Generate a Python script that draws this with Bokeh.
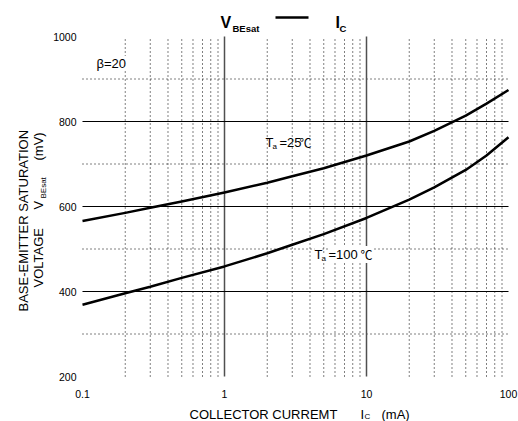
import math
from bokeh.plotting import figure
from bokeh.models import Label, Range1d
from bokeh.embed import file_html
from bokeh.resources import INLINE

# ---- data ----
ic = [0.1, 0.2, 0.3, 0.5, 1, 2, 3, 5, 10, 20, 30, 50, 70, 100]
v_25 = [566, 585, 597, 612, 633, 656, 671, 690, 720, 753, 778, 814, 842, 874]
v_100 = [369, 396, 411, 432, 459, 490, 510, 535, 573, 616, 645, 686, 720, 763]
x_ticks = [0.1, 1, 10, 100]
x_tick_labels = ["0.1", "1", "10", "100"]
y_ticks = [200, 400, 600, 800, 1000]
y_tick_labels = ["200", "400", "600", "800", "1000"]
x_major_grid = [1, 10]
x_minor_grid = [0.2, 0.3, 0.4, 0.5, 0.6, 0.7, 0.8, 0.9,
                2, 3, 4, 5, 6, 7, 8, 9,
                20, 30, 40, 50, 60, 70, 80, 90]
y_major_grid = [400, 600, 800]
y_minor_grid = [300, 500, 700, 900]
x_lim = [0.1, 100]
y_lim = [200, 1000]

FONT = "Liberation Sans"
W, H = 518, 421

# plot-area placement (pixels)
LEFT, RIGHT, TOP, BOTTOM = 82, 508, 36, 376
DEC = (RIGHT - LEFT) / 3.0


def xd(px):
    return 10 ** ((px - LEFT) / DEC - 1)


def yd(py):
    return 200 + (BOTTOM - py) * 800.0 / (BOTTOM - TOP)


p = figure(width=W, height=H, x_axis_type="log",
           x_range=Range1d(xd(0), xd(W)), y_range=Range1d(yd(H), yd(0)),
           x_axis_location=None, y_axis_location=None,
           output_backend="svg", toolbar_location=None, min_border=0)
p.outline_line_color = None
p.grid.visible = False
p.background_fill_color = "white"
p.border_fill_color = "white"

# grid lines
p.segment(x0=x_minor_grid, x1=x_minor_grid,
          y0=[y_lim[0]] * len(x_minor_grid), y1=[y_lim[1]] * len(x_minor_grid),
          line_color="black", line_width=1, line_dash="1 3")
p.segment(x0=[x_lim[0]] * len(y_minor_grid), x1=[x_lim[1]] * len(y_minor_grid),
          y0=y_minor_grid, y1=y_minor_grid,
          line_color="black", line_width=1, line_dash="1 3")
p.segment(x0=x_major_grid, x1=x_major_grid,
          y0=[y_lim[0]] * len(x_major_grid), y1=[y_lim[1]] * len(x_major_grid),
          line_color="#505050", line_width=1.5)
p.segment(x0=[x_lim[0]] * len(y_major_grid), x1=[x_lim[1]] * len(y_major_grid),
          y0=y_major_grid, y1=y_major_grid,
          line_color="black", line_width=1.2)

# curves
p.line(ic, v_25, line_color="black", line_width=2.5, line_join="round")
p.line(ic, v_100, line_color="black", line_width=2.5, line_join="round")

# tick labels
p.text(x=x_ticks, y=[yd(393)] * len(x_ticks), text=x_tick_labels,
       text_font={"value": FONT}, text_font_size="10.5px",
       text_align="center", text_baseline="middle", text_color="black")
p.text(x=[xd(76)] * len(y_ticks), y=y_ticks, text=y_tick_labels,
       text_font={"value": FONT}, text_font_size="10.5px",
       text_align="right", text_baseline="middle", text_color="black")


def lab(px, py, text, size, bold=False, align="left", baseline="alphabetic",
        angle=0, bg=None, font=FONT):
    l = Label(x=xd(px), y=yd(py), text=text, text_font=font,
              text_font_size=size, text_color="black",
              text_font_style="bold" if bold else "normal",
              text_align=align, text_baseline=baseline, angle=angle)
    if bg:
        l.background_fill_color = bg
    p.add_layout(l)


# title
lab(220, 22, "V", "16px", bold=True)
lab(232, 28, "BEsat", "9.5px", bold=True)
lab(335, 22, "I", "16px", bold=True)
lab(339, 28, "C", "9.5px", bold=True)
p.line(x=[xd(275), xd(308)], y=[yd(17), yd(17)], line_color="black",
       line_width=2.5)

# annotations inside the plot
lab(96, 63, "β=20", "13px", bg="white")
lab(265, 142, "T", "13px")
lab(272, 146, "a", "8px")
lab(279, 142, "=25", "13px")
lab(299, 142, "℃", "12px", font="Noto Sans CJK SC")
lab(314, 254, "T", "13px", bg="white")
lab(321, 258, "a", "8px", bg="white")
lab(328, 254, "=100 ", "13px", bg="white")
lab(360, 254, "℃", "12px", bg="white", font="Noto Sans CJK SC")

# x-axis title
lab(189, 414, "COLLECTOR CURREMT", "13px")
lab(360, 414, "I", "13px")
lab(364, 416, "C", "8px")
lab(381, 414, "(mA)", "13px")

# y-axis title (rotated)
half = math.pi / 2
lab(23, 311, "BASE-EMITTER SATURATION", "13px", angle=half)
lab(38, 287, "VOLTAGE", "13px", angle=half)
lab(38, 209, "V", "13px", angle=half)
lab(43, 198, "BEsat", "8px", angle=half)
lab(38, 160, "(mV)", "13px", angle=half)

with open("out.html", "w") as f:
    f.write(file_html(p, INLINE))
